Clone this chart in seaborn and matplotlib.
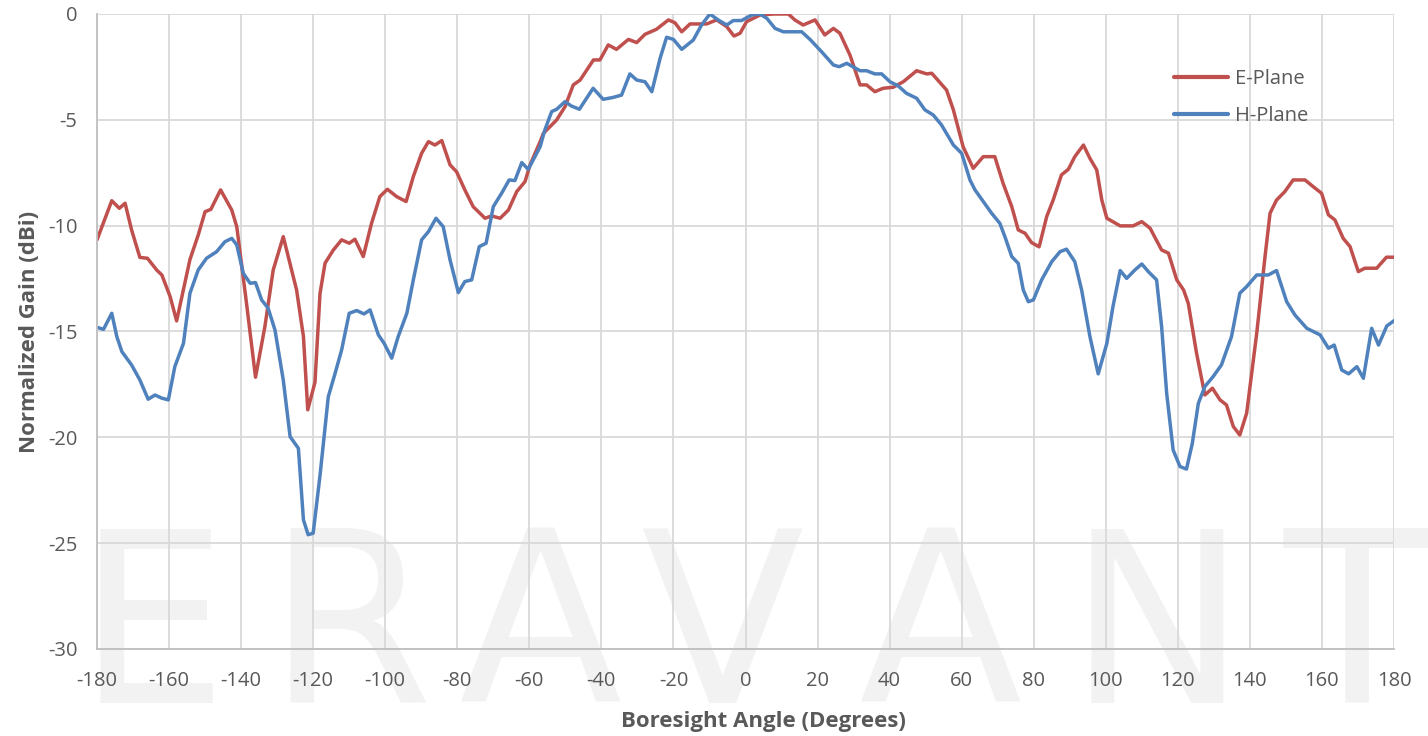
import numpy as np
import pandas as pd
import matplotlib
matplotlib.use("Agg")
import matplotlib.pyplot as plt
from matplotlib.ticker import MultipleLocator
import seaborn as sns

# E-Plane trace (angle in degrees, normalized gain in dBi)
e_angle = [-180, -175.9, -173.8, -172.2, -170.4, -168.1, -166.0, -163.4, -162.0, -159.7,
           -157.9, -154.2, -151.9, -150.0, -148.4, -145.7, -142.6, -141.2, -138.5, -136.0,
           -133.4, -131.1, -128.3, -124.6, -122.7, -121.5, -119.5, -118.1, -116.7, -114.4,
           -112.1, -110.0, -108.4, -106.1, -103.8, -101.5, -99.4, -96.8, -94.2, -92.2,
           -89.9, -88.0, -86.2, -84.3, -82.0, -80.2, -77.9, -75.6, -72.3, -70.5,
           -68.1, -65.8, -63.5, -61.2, -59.8, -57.0, -56.1, -52.4, -50.1, -47.8,
           -45.9, -42.2, -40.4, -38.1, -35.8, -32.5, -30.2, -27.9, -24.7, -21.4,
           -19.6, -17.7, -15.4, -10.8, -8.0, -5.2, -3.2, -1.5, 0.3, 4.0,
           7.7, 11.9, 13.7, 16.0, 19.3, 22.0, 24.4, 26.2, 29.0, 31.8,
           33.6, 35.9, 38.2, 41.0, 43.8, 47.5, 50.3, 51.7, 55.8, 57.7,
           60.4, 63.2, 66.0, 69.2, 71.5, 73.9, 75.7, 77.6, 79.4, 81.5,
           83.6, 85.4, 87.7, 89.6, 91.4, 93.8, 95.6, 97.5, 98.9, 100.3,
           104.0, 107.6, 110.0, 112.3, 115.5, 117.4, 119.7, 121.6, 122.9, 125.2,
           127.5, 129.6, 131.7, 133.5, 135.4, 137.2, 139.1, 141.9, 144.2, 145.6,
           147.4, 149.7, 152.0, 155.3, 157.6, 159.9, 161.8, 163.6, 165.9, 167.8,
           170.1, 171.9, 175.2, 177.9, 180]
e_gain = [-10.67, -8.82, -9.18, -8.94, -10.2, -11.5, -11.54, -12.1, -12.33, -13.35,
          -14.5, -11.6, -10.44, -9.34, -9.23, -8.31, -9.26, -10.05, -13.67, -17.16,
          -14.77, -12.1, -10.52, -13.04, -15.24, -18.7, -17.4, -13.2, -11.77, -11.15,
          -10.67, -10.83, -10.64, -11.46, -9.89, -8.63, -8.28, -8.63, -8.86, -7.68,
          -6.58, -6.03, -6.19, -5.98, -7.13, -7.45, -8.31, -9.1, -9.65, -9.54,
          -9.65, -9.26, -8.39, -7.92, -7.13, -6.03, -5.64, -5.0, -4.38, -3.35,
          -3.12, -2.17, -2.17, -1.46, -1.67, -1.2, -1.35, -0.96, -0.72, -0.28,
          -0.41, -0.84, -0.47, -0.47, -0.28, -0.6, -1.04, -0.91, -0.36, -0.05,
          0.0, 0.0, -0.28, -0.52, -0.28, -0.99, -0.68, -0.91, -1.94, -3.35,
          -3.35, -3.67, -3.51, -3.46, -3.2, -2.68, -2.83, -2.8, -3.59, -4.53,
          -6.27, -7.29, -6.74, -6.74, -8.0, -9.1, -10.2, -10.36, -10.8, -11.0,
          -9.57, -8.79, -7.6, -7.34, -6.74, -6.19, -6.82, -7.37, -8.79, -9.65,
          -10.01, -10.01, -9.81, -10.12, -11.15, -11.3, -12.56, -13.04, -13.67, -16.03,
          -18.0, -17.68, -18.23, -18.47, -19.49, -19.89, -18.86, -15.08, -11.46, -9.41,
          -8.79, -8.39, -7.84, -7.84, -8.16, -8.47, -9.49, -9.73, -10.6, -10.99,
          -12.17, -12.01, -12.01, -11.49, -11.49]

# H-Plane trace
h_angle = [-180, -178.2, -175.9, -174.5, -173.1, -170.4, -168.1, -165.8, -163.9, -162.0,
           -160.2, -158.4, -156.0, -154.2, -151.9, -149.6, -146.8, -144.5, -142.6, -141.2,
           -139.4, -137.5, -136.0, -134.3, -132.5, -130.6, -128.3, -126.4, -124.1, -122.7,
           -121.4, -120.0, -118.1, -115.8, -113.9, -112.1, -110.0, -107.9, -105.9, -104.2,
           -101.9, -100.3, -98.2, -96.4, -94.0, -92.2, -89.9, -88.0, -85.9, -83.9,
           -82.0, -79.7, -77.9, -76.0, -73.9, -72.0, -70.0, -67.7, -65.6, -64.0,
           -62.1, -60.3, -57.0, -55.7, -53.8, -52.4, -50.1, -48.3, -46.1, -44.1,
           -42.3, -39.5, -36.7, -34.4, -32.1, -30.2, -27.9, -26.0, -23.7, -21.9,
           -20.0, -17.7, -14.5, -12.2, -9.9, -7.6, -5.2, -3.4, -1.1, 1.7,
           4.0, 5.9, 8.2, 10.5, 15.6, 17.9, 21.1, 24.4, 26.0, 28.1,
           31.8, 33.6, 35.9, 37.8, 40.1, 42.4, 44.7, 47.5, 49.8, 52.1,
           54.4, 57.7, 60.0, 62.3, 63.7, 66.0, 68.3, 70.6, 72.0, 73.9,
           75.7, 77.1, 78.5, 79.9, 82.2, 85.0, 87.3, 89.1, 91.4, 93.3,
           95.6, 97.9, 100.3, 102.0, 104.0, 105.8, 108.1, 110.0, 111.8, 114.1,
           115.5, 116.9, 118.7, 120.6, 122.4, 124.0, 125.7, 127.5, 129.8, 132.1,
           134.9, 137.2, 139.1, 141.9, 145.1, 147.4, 150.2, 152.5, 155.8, 159.5,
           161.8, 163.4, 165.5, 167.4, 169.7, 171.5, 173.8, 175.7, 178.0, 180]
h_gain = [-14.8, -14.9, -14.14, -15.24, -15.95, -16.58, -17.29, -18.2, -18.0, -18.15,
          -18.23, -16.66, -15.56, -13.19, -12.09, -11.54, -11.23, -10.76, -10.6, -10.91,
          -12.25, -12.72, -12.69, -13.51, -13.9, -14.93, -17.29, -19.97, -20.52, -23.9,
          -24.6, -24.53, -21.8, -18.08, -16.97, -15.87, -14.14, -14.01, -14.17, -13.98,
          -15.16, -15.56, -16.26, -15.24, -14.14, -12.56, -10.67, -10.28, -9.65, -10.05,
          -11.62, -13.16, -12.64, -12.56, -10.99, -10.83, -9.1, -8.47, -7.84, -7.87,
          -7.02, -7.34, -6.27, -5.48, -4.61, -4.5, -4.14, -4.35, -4.5, -3.98,
          -3.51, -4.03, -3.94, -3.83, -2.83, -3.12, -3.2, -3.67, -2.09, -1.1,
          -1.2, -1.67, -1.23, -0.52, 0.0, -0.28, -0.52, -0.31, -0.31, -0.05,
          0.0, -0.2, -0.68, -0.84, -0.84, -1.2, -1.78, -2.41, -2.49, -2.33,
          -2.68, -2.68, -2.83, -2.83, -3.2, -3.4, -3.75, -3.98, -4.53, -4.77,
          -5.24, -6.19, -6.58, -7.84, -8.31, -8.86, -9.41, -9.89, -10.52, -11.46,
          -11.78, -13.04, -13.59, -13.51, -12.56, -11.7, -11.23, -11.11, -11.7, -13.04,
          -15.24, -17.0, -15.56, -13.82, -12.12, -12.49, -12.09, -11.81, -12.17, -12.56,
          -14.77, -17.92, -20.6, -21.38, -21.5, -20.3, -18.39, -17.6, -17.13, -16.58,
          -15.24, -13.19, -12.88, -12.33, -12.33, -12.12, -13.59, -14.22, -14.85, -15.16,
          -15.79, -15.64, -16.82, -17.0, -16.66, -17.21, -14.85, -15.64, -14.74, -14.49]

x_ticks = list(range(-180, 181, 20))
y_ticks = list(range(-30, 1, 5))
watermark = ["E", "R", "A", "V", "A", "N", "T"]

df = pd.concat([
    pd.DataFrame({"angle": e_angle, "gain": e_gain, "plane": "E-Plane"}),
    pd.DataFrame({"angle": h_angle, "gain": h_gain, "plane": "H-Plane"}),
])

sns.set_style("white")
plt.rcParams["font.family"] = ["Open Sans", "DejaVu Sans"]
plt.rcParams["axes.unicode_minus"] = False

fig = plt.figure(figsize=(14.28, 7.36), dpi=100)
ax = fig.add_axes([97 / 1428, 1 - 649 / 736, 1297 / 1428, 635 / 736])

# faint brand watermark behind the chart
wm_x = [152, 350, 540, 722, 940, 1157, 1357]
for letter, px in zip(watermark, wm_x):
    fig.text(px / 1428, 1 - 703 / 736, letter, ha="center", va="baseline",
             fontsize=172, color="#f2f2f2", family="DejaVu Sans", zorder=0)
ax.set_facecolor("none")
ax.set_zorder(2)

sns.lineplot(data=df, x="angle", y="gain", hue="plane", sort=False,
             palette={"E-Plane": "#c0504d", "H-Plane": "#4f81bd"},
             linewidth=2.5, ax=ax)
for ln in ax.get_lines():
    ln.set_solid_joinstyle("round")
    ln.set_solid_capstyle("round")

ax.set_xlim(-180, 180)
ax.set_ylim(-30, 0)
ax.set_xticks(x_ticks)
ax.set_yticks(y_ticks)
ax.xaxis.set_minor_locator(MultipleLocator(4))
ax.yaxis.set_minor_locator(MultipleLocator(1))
ax.grid(True, which="major", color="#d9d9d9", linewidth=1.3)
ax.set_axisbelow(True)
for s in ["top", "right"]:
    ax.spines[s].set_visible(False)
for s in ["left", "bottom"]:
    ax.spines[s].set_color("#bfbfbf")
    ax.spines[s].set_linewidth(1.3)
ax.tick_params(which="major", length=0, labelsize=14.5, labelcolor="#595959")
ax.tick_params(axis="x", which="major", pad=16)
ax.tick_params(axis="y", which="major", pad=14)
ax.tick_params(which="minor", direction="in", length=5, color="#bfbfbf", width=1)

ax.set_xlabel("Boresight Angle (Degrees)", fontsize=16, fontweight="bold",
              color="#595959", labelpad=14)
ax.xaxis.label.set_x(0.514)
ax.set_ylabel("Normalized Gain (dBi)", fontsize=16, fontweight="bold",
              color="#595959", labelpad=6)

leg = ax.legend(loc="upper right", bbox_to_anchor=(0.948, 0.942), frameon=False,
                fontsize=14.5, handlelength=2.7, handletextpad=0.35, labelspacing=0.85)
for t in leg.get_texts():
    t.set_color("#595959")
for h in leg.get_lines():
    h.set_linewidth(3)

fig.savefig("out.png", dpi=100)
